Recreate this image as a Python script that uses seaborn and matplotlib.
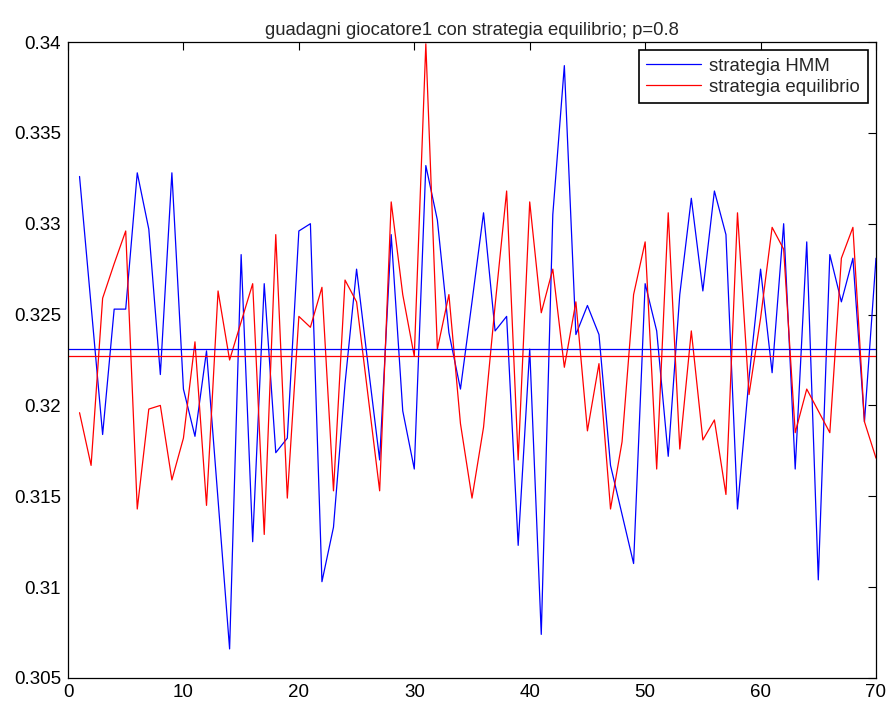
import numpy as np
import pandas as pd
import matplotlib
matplotlib.use("Agg")
import matplotlib.pyplot as plt
import seaborn as sns
from matplotlib.ticker import FuncFormatter, MultipleLocator

# ---- data ----
rounds = list(range(1, 71))
hmm_gain = [0.3326, 0.3255, 0.3184, 0.3253, 0.3253, 0.3328, 0.3297, 0.3217, 0.3328, 0.3209,
            0.3183, 0.3230, 0.3148, 0.3066, 0.3283, 0.3125, 0.3267, 0.3174, 0.3182, 0.3296,
            0.3300, 0.3103, 0.3133, 0.3212, 0.3275, 0.3222, 0.3170, 0.3294, 0.3197, 0.3165,
            0.3332, 0.3302, 0.3240, 0.3209, 0.3257, 0.3306, 0.3241, 0.3249, 0.3123, 0.3231,
            0.3074, 0.3305, 0.3387, 0.3239, 0.3255, 0.3239, 0.3167, 0.3140, 0.3113, 0.3267,
            0.3241, 0.3172, 0.3261, 0.3314, 0.3263, 0.3318, 0.3294, 0.3143, 0.3215, 0.3275,
            0.3218, 0.3300, 0.3165, 0.3290, 0.3104, 0.3283, 0.3257, 0.3281, 0.3191, 0.3281]
eq_gain = [0.3196, 0.3167, 0.3259, 0.3278, 0.3296, 0.3143, 0.3198, 0.3200, 0.3159, 0.3182,
           0.3235, 0.3145, 0.3263, 0.3225, 0.3246, 0.3267, 0.3129, 0.3294, 0.3149, 0.3249,
           0.3243, 0.3265, 0.3153, 0.3269, 0.3257, 0.3205, 0.3153, 0.3312, 0.3261, 0.3227,
           0.3399, 0.3231, 0.3261, 0.3190, 0.3149, 0.3188, 0.3255, 0.3318, 0.3170, 0.3312,
           0.3251, 0.3275, 0.3221, 0.3257, 0.3186, 0.3223, 0.3143, 0.3180, 0.3261, 0.3290,
           0.3165, 0.3306, 0.3176, 0.3241, 0.3181, 0.3192, 0.3151, 0.3306, 0.3206, 0.3248,
           0.3298, 0.3286, 0.3185, 0.3209, 0.3197, 0.3185, 0.3281, 0.3298, 0.3191, 0.3171]
hmm_mean = 0.3231
eq_mean = 0.3227
series_names = ["strategia HMM", "strategia equilibrio"]
series_colors = ["#0000ff", "#ff0000"]
title_text = "guadagni giocatore1 con strategia equilibrio; p=0.8"

df = pd.DataFrame({
    "round": rounds * 2,
    "gain": hmm_gain + eq_gain,
    "series": [series_names[0]] * len(rounds) + [series_names[1]] * len(rounds),
})

sns.set_style("white")
plt.rcParams["font.family"] = ["Liberation Sans", "DejaVu Sans"]
plt.rcParams["xtick.direction"] = "in"
plt.rcParams["ytick.direction"] = "in"

fig = plt.figure(figsize=(8.89, 7.04), dpi=100)
ax = fig.add_axes([68 / 889, 26 / 704, (876 - 68) / 889, (678 - 42) / 704])

sns.lineplot(data=df, x="round", y="gain", hue="series", hue_order=series_names,
             palette=series_colors, linewidth=0.9, ax=ax, legend=True)
ax.axhline(hmm_mean, color=series_colors[0], linewidth=0.9)
ax.axhline(eq_mean, color=series_colors[1], linewidth=0.9)

ax.set_xlim(0, 70)
ax.set_ylim(0.305, 0.34)
ax.xaxis.set_major_locator(MultipleLocator(10))
ax.yaxis.set_major_locator(MultipleLocator(0.005))
ax.yaxis.set_major_formatter(FuncFormatter(lambda v, p: f"{v:.3f}".rstrip("0")))
ax.tick_params(axis="both", which="both", direction="in", length=6, width=0.8,
               top=True, right=True, labelsize=13.5, colors="black", pad=5)
ax.tick_params(axis="x", pad=4)
ax.set_xlabel("")
ax.set_ylabel("")
for s in ax.spines.values():
    s.set_visible(True)
    s.set_color("black")
    s.set_linewidth(0.9)
ax.set_title(title_text, fontsize=13.3, pad=5)

leg = ax.legend(loc="upper right", fontsize=13.4, frameon=True, fancybox=False,
                edgecolor="black", framealpha=1, borderaxespad=0.45, handlelength=2.95,
                borderpad=0.4, labelspacing=0.2, handletextpad=0.45)
leg.get_frame().set_linewidth(1.2)

fig.savefig("out.png", dpi=100)
